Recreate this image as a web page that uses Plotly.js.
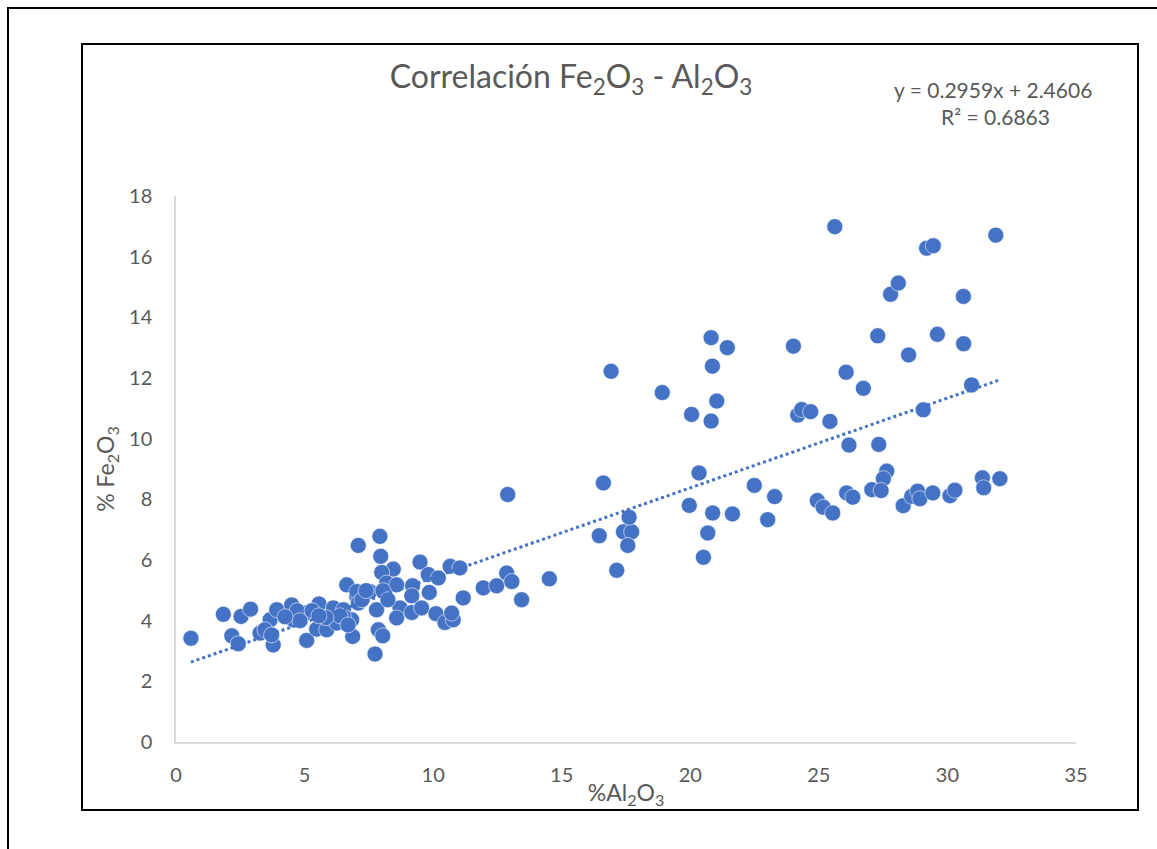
<!DOCTYPE html>
<html>
<head>
<meta charset="utf-8">
<script src="https://cdn.plot.ly/plotly-3.0.1.min.js"></script>
<style>
  html, body { margin: 0; padding: 0; background: #fff; width: 1157px; height: 849px; overflow: hidden; }
  #outer { position: absolute; left: 7px; top: 7px; width: 2000px; height: 2000px; border-left: 2px solid #000; border-top: 2px solid #000; }
  #frame { position: absolute; left: 81px; top: 43px; width: 1054px; height: 764px; border: 2px solid #000; }
  #chart { width: 1054px; height: 764px; }
</style>
</head>
<body>
<div id="outer"></div>
<div id="frame"><div id="chart"></div></div>
<script>
// %Al2O3 values
const al2o3 = [
  0.58, 1.84, 2.17, 2.42, 2.53, 2.90, 3.27, 3.66, 3.92, 3.46, 3.78, 3.72,
  4.50, 4.56, 5.02, 5.08, 5.56, 5.47, 5.86, 6.12, 6.51, 6.64, 6.87, 7.09,
  7.03, 6.83, 6.25, 7.93, 7.96, 8.45, 8.00, 7.03, 7.54, 8.19, 8.58, 7.09,
  7.80, 6.51, 7.87, 8.04, 7.74, 9.49, 9.81, 10.20, 9.20, 9.17, 9.85, 8.71,
  8.58, 9.17, 9.55, 10.11, 10.46, 10.78, 10.66, 11.04, 11.17, 11.95, 12.47, 12.86,
  13.06, 13.44, 12.90, 14.52, 10.72, 4.71, 4.82, 4.24, 5.29, 6.38, 6.69, 7.23,
  7.39, 8.05, 8.24, 5.83, 5.56,
  16.62, 16.46, 17.40, 17.72, 17.62, 17.57, 17.14, 16.92, 18.91, 20.05, 20.81, 21.03,
  20.81, 21.44, 20.86, 20.34, 19.96, 20.87, 21.64, 20.68, 20.51, 22.49, 23.28, 23.01,
  24.01, 24.18, 24.33, 24.68, 25.43, 24.94, 25.17, 25.54, 25.62, 26.06, 26.73, 26.17,
  26.08, 26.32, 27.06, 27.33, 27.29, 27.64, 27.51, 27.42, 27.79, 28.09, 28.49, 28.28,
  28.61, 28.84, 28.93, 29.43, 29.06, 29.19, 29.45, 29.61, 30.10, 30.29, 30.62, 30.63,
  30.94, 31.36, 31.41, 31.88, 32.04
];
// %Fe2O3 values
const fe2o3 = [
  3.42, 4.21, 3.50, 3.24, 4.14, 4.38, 3.59, 4.03, 4.36, 3.70, 3.20, 3.53,
  4.52, 4.03, 4.25, 3.35, 4.55, 3.72, 3.70, 4.42, 4.36, 5.18, 3.48, 6.48,
  4.80, 4.03, 3.92, 6.78, 6.12, 5.70, 5.59, 4.96, 4.96, 5.24, 5.18, 4.58,
  4.36, 4.14, 3.70, 3.50, 2.90, 5.93, 5.52, 5.41, 5.15, 4.82, 4.93, 4.42,
  4.09, 4.27, 4.42, 4.23, 3.94, 4.03, 5.79, 5.74, 4.75, 5.08, 5.15, 5.57,
  5.29, 4.69, 8.16, 5.38, 4.25, 4.33, 4.00, 4.13, 4.33, 4.16, 3.86, 4.69,
  4.99, 4.99, 4.69, 4.10, 4.16,
  8.54, 6.80, 6.93, 6.93, 7.41, 6.48, 5.66, 12.22, 11.52, 10.80, 10.58, 11.24,
  13.33, 13.00, 12.39, 8.87, 7.80, 7.55, 7.52, 6.89, 6.09, 8.46, 8.09, 7.33,
  13.05, 10.78, 10.96, 10.89, 10.57, 7.96, 7.74, 7.55, 16.99, 12.19, 11.66, 9.79,
  8.21, 8.07, 8.32, 9.81, 13.39, 8.93, 8.68, 8.29, 14.76, 15.13, 12.76, 7.79,
  8.10, 8.27, 8.02, 8.21, 10.95, 16.28, 16.36, 13.44, 8.12, 8.30, 14.69, 13.13,
  11.77, 8.71, 8.38, 16.71, 8.68
];
// Linear trendline coefficients (from chart label)
const slope = 0.2959;
const intercept = 2.4606;
const r2 = 0.6863;

const xMin = Math.min(...al2o3), xMax = Math.max(...al2o3);
const trendX = [xMin, xMax];
const trendY = trendX.map(v => slope * v + intercept);

const blue = '#4472C4';
const grey = '#595959';
const fontFam = 'Lato, "Open Sans", sans-serif';

const traces = [
  {
    x: al2o3, y: fe2o3, type: 'scatter', mode: 'markers',
    marker: { color: blue, size: 16, line: { color: 'rgba(255,255,255,0.7)', width: 0.8 } },
    hoverinfo: 'x+y'
  },
  {
    x: trendX, y: trendY, type: 'scatter', mode: 'lines',
    line: { color: blue, width: 3, dash: 'dot' },
    hoverinfo: 'skip'
  }
];

const layout = {
  width: 1054, height: 764,
  margin: { l: 93, r: 61, t: 151, b: 67 },
  paper_bgcolor: '#fff', plot_bgcolor: '#fff',
  showlegend: false,
  font: { family: fontFam, color: grey, size: 18 },
  title: {
    text: 'Correlación Fe<sub>2</sub>O<sub>3</sub> - Al<sub>2</sub>O<sub>3</sub>',
    font: { family: fontFam, size: 32, color: grey },
    xref: 'container', x: 0.463, xanchor: 'center',
    yref: 'container', y: 0.958, yanchor: 'middle'
  },
  xaxis: {
    range: [0, 35], tickvals: [0,5,10,15,20,25,30,35],
    showgrid: false, zeroline: false,
    showline: true, linecolor: '#d9d9d9', linewidth: 1.5,
    ticks: '', ticklen: 0, ticklabelstandoff: 14,
    tickfont: { family: fontFam, size: 20, color: grey },
    title: { text: '%Al<sub>2</sub>O<sub>3</sub>', font: { family: fontFam, size: 23, color: grey }, standoff: 2 },
    automargin: false
  },
  yaxis: {
    range: [0, 18], tickvals: [0,2,4,6,8,10,12,14,16,18],
    showgrid: false, zeroline: false,
    showline: true, linecolor: '#d9d9d9', linewidth: 1.5,
    ticks: '', ticklen: 0, ticklabelstandoff: 18,
    tickfont: { family: fontFam, size: 20, color: grey },
    title: { text: '% Fe<sub>2</sub>O<sub>3</sub>', font: { family: fontFam, size: 23, color: grey }, standoff: 8 },
    automargin: false
  },
  annotations: [
    {
      xref: 'paper', yref: 'paper', x: 0.908, y: 1.195, xanchor: 'center', yanchor: 'middle',
      text: 'y = ' + slope + 'x + ' + intercept, showarrow: false,
      font: { family: fontFam, size: 21, color: grey }
    },
    {
      xref: 'paper', yref: 'paper', x: 0.91, y: 1.145, xanchor: 'center', yanchor: 'middle',
      text: 'R² = ' + r2, showarrow: false,
      font: { family: fontFam, size: 21, color: grey }
    }
  ]
};

Plotly.newPlot('chart', traces, layout, { displayModeBar: false, responsive: false });
</script>
</body>
</html>
